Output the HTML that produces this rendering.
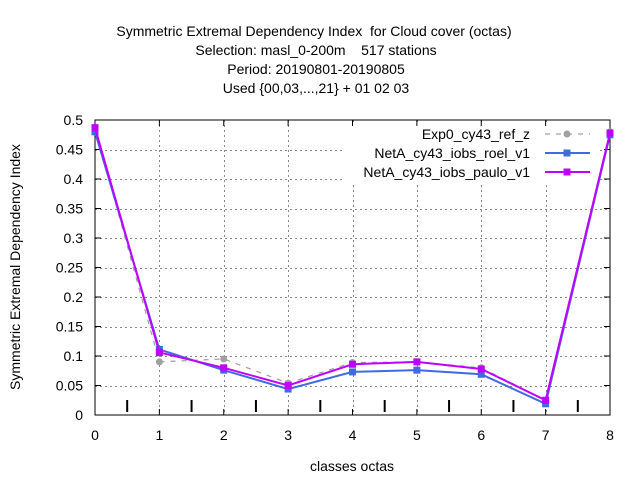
<!DOCTYPE html>
<html><head><meta charset="utf-8"><style>
body{margin:0;background:#fff}
svg{font-family:"Liberation Sans",sans-serif;font-size:14px}
text{white-space:pre}
</style></head><body>
<svg id="chart" width="640" height="480" xmlns="http://www.w3.org/2000/svg" xml:space="preserve">
<g id="titles" text-anchor="middle">
<text x="314" y="36">Symmetric Extremal Dependency Index  for Cloud cover (octas)</text>
<text x="316" y="55">Selection: masl_0-200m    517 stations</text>
<text x="316" y="74">Period: 20190801-20190805</text>
<text x="316" y="93">Used {00,03,...,21} + 01 02 03</text>
</g>
<g id="grid" shape-rendering="crispEdges"></g>
<rect x="345" y="122" width="253" height="60" fill="#fff"/>
<g id="axes"></g>
<text x="352" y="471" text-anchor="middle">classes octas</text>
<text transform="translate(20,267) rotate(-90)" text-anchor="middle">Symmetric Extremal Dependency Index</text>
<g id="series"></g>
<g id="legend"></g>
</svg>
<script>
const categories=[0,1,2,3,4,5,6,7,8];
const yTicks=[0,0.05,0.1,0.15,0.2,0.25,0.3,0.35,0.4,0.45,0.5];
const yTickLabels=["0","0.05","0.1","0.15","0.2","0.25","0.3","0.35","0.4","0.45","0.5"];
const seriesNames=["Exp0_cy43_ref_z","NetA_cy43_iobs_roel_v1","NetA_cy43_iobs_paulo_v1"];
const exp0Values=[0.485,0.090,0.095,0.054,0.089,0.090,0.080,0.025,0.480];
const roelValues=[0.480,0.111,0.076,0.044,0.073,0.076,0.069,0.019,0.475];
const pauloValues=[0.487,0.106,0.080,0.050,0.086,0.090,0.078,0.025,0.478];
const L=95,R=610,T=120,B=415;
const xs=v=>L+(v-0)/8*(R-L);
const ys=v=>B-v/0.5*(B-T);
const NS="http://www.w3.org/2000/svg";
function mk(tag,parent,attrs){const e=document.createElementNS(NS,tag);for(const k in attrs)e.setAttribute(k,attrs[k]);document.getElementById(parent).appendChild(e);return e;}
yTicks.forEach((t,i)=>{
 if(i>0&&i<yTicks.length-1){const yy=Math.round(ys(t))+0.5;const g=mk('line','grid',{x1:L,x2:R,y1:yy,y2:yy,stroke:'#888','stroke-dasharray':'2,3','stroke-width':1});
 
 }
 const tk=mk('line','axes',{x1:L,x2:L+6,y1:ys(t),y2:ys(t),stroke:'#000'});
 
 
 mk('line','axes',{x1:R-6,x2:R,y1:ys(t),y2:ys(t),stroke:'#000'});
 const lb=mk('text','axes',{x:L-12,y:ys(t)+5,'text-anchor':'end'});lb.textContent=yTickLabels[i];
 
 
});
categories.forEach((c,i)=>{
 if(i>0&&i<categories.length-1){const xx=Math.round(xs(c))+0.5;const g=mk('line','grid',{x1:xx,x2:xx,y1:T,y2:B,stroke:'#888','stroke-dasharray':'2,3','stroke-width':1});
 
 }
 mk('line','axes',{x1:xs(c),x2:xs(c),y1:B,y2:B-6,stroke:'#000'});
 mk('line','axes',{x1:xs(c),x2:xs(c),y1:T,y2:T+6,stroke:'#000'});
 const lb=mk('text','axes',{x:xs(c),y:B+25,'text-anchor':'middle'});lb.textContent=c;
 
 
 if(i<categories.length-1){const m=mk('line','axes',{x1:xs(c+0.5),x2:xs(c+0.5),y1:B-3,y2:B-15,stroke:'#000','stroke-width':2});
 
 }
});
const fr=mk('rect','axes',{x:L,y:T,width:R-L,height:B-T,fill:'none',stroke:'#000'});


const styles=[{c:'#a0a0a0',d:'5,6',w:1.2},{c:'#4169e1',d:'',w:2},{c:'#c000ff',d:'',w:2}];
[exp0Values,roelValues,pauloValues].forEach((vals,si)=>{
 const s=styles[si];
 const pl=mk('polyline','series',{points:vals.map((v,i)=>xs(categories[i])+','+ys(v)).join(' '),fill:'none',stroke:s.c,'stroke-width':s.w,'stroke-dasharray':s.d});
 
 
 vals.forEach((v,i)=>{
  const p=si==0?mk('circle','series',{cx:xs(categories[i]),cy:ys(v),r:3.5,fill:s.c}):mk('rect','series',{x:xs(categories[i])-3.5,y:ys(v)-3.5,width:7,height:7,fill:s.c});
  
  
 });
 const ly=134+si*19;
 const t=mk('text','legend',{x:530,y:ly+5,'text-anchor':'end'});t.textContent=seriesNames[si];
 
 
 mk('line','legend',{x1:545,x2:590,y1:ly,y2:ly,stroke:s.c,'stroke-width':s.w,'stroke-dasharray':s.d});
 if(si==0)mk('circle','legend',{cx:567,cy:ly,r:3.5,fill:s.c});else mk('rect','legend',{x:563.5,y:ly-3.5,width:7,height:7,fill:s.c});
});
</script>
</body></html>
